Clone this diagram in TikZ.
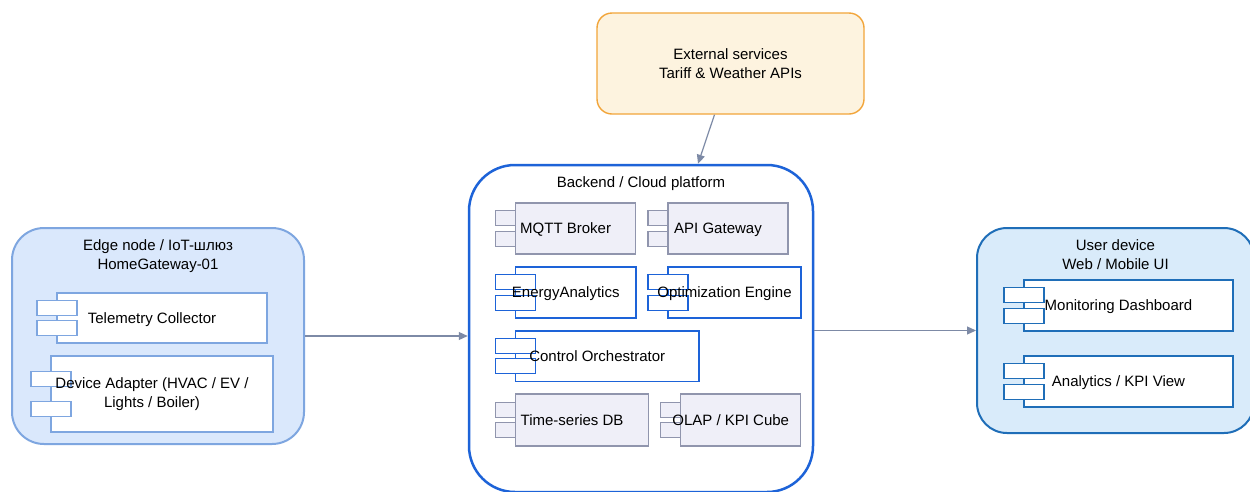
\documentclass[tikz,border=0pt]{standalone}
\usepackage{fontspec}
\setmainfont{Liberation Sans}
\usetikzlibrary{arrows.meta}

\definecolor{edgefill}{HTML}{DAE8FC}
\definecolor{edgeline}{HTML}{7EA6E0}
\definecolor{cloudline}{HTML}{1D63D8}
\definecolor{lavfill}{HTML}{EFEFF8}
\definecolor{lavline}{HTML}{9095AD}
\definecolor{userfill}{HTML}{D9EBFA}
\definecolor{userline}{HTML}{1F6EB8}
\definecolor{extfill}{HTML}{FDF3DF}
\definecolor{extline}{HTML}{F2A53A}
\definecolor{flowline}{HTML}{7D8AA6}

\pgfdeclarelayer{back}
\pgfdeclarelayer{mid}
\pgfsetlayers{back,mid,main}

% UML component: body rectangle plus two jetties on its left edge.
% #1 extra node options, #2 name, #3 body style, #4..#7 x1 y1 x2 y2, #8 text
\newcommand\jetties[5]{%
  \path[#1] (#2,{#3+0.3*(#5-#3)-7.5}) rectangle ++(40,15);
  \path[#1] (#2,{#3+0.7*(#5-#3)-7.5}) rectangle ++(40,15);}
\newcommand\partover[8][]{%
  \node[parttext,#1,minimum width={(#6-#4)*1pt},minimum height={(#7-#5)*1pt}]
    (#2) at ({(#4+#6)/2},{(#5+#7)/2}) {#8};
  \begin{pgfonlayer}{mid}
    \path[#3] ({#4+20},#5) rectangle (#6,#7);
    \jetties{#3}{#4}{#5}{#6}{#7}
  \end{pgfonlayer}}
\newcommand\partunder[8][]{%
  \node[parttext,#1,minimum width={(#6-#4)*1pt},minimum height={(#7-#5)*1pt}]
    (#2) at ({(#4+#6)/2},{(#5+#7)/2}) {#8};
  \begin{pgfonlayer}{mid}
    \jetties{#3}{#4}{#5}{#6}{#7}
    \path[#3] ({#4+20},#5) rectangle (#6,#7);
  \end{pgfonlayer}}

\tikzset{
  parttext/.style={inner sep=0pt, text height=11pt, text depth=0.2pt},
  edgepart/.style={draw=edgeline, fill=white, line width=1.1pt},
  cloudpart/.style={draw=cloudline, fill=white, line width=1.1pt},
  lavpart/.style={draw=lavline, fill=lavfill, line width=1.1pt},
  userpart/.style={draw=userline, fill=white, line width=1.1pt},
  container/.style={rectangle, inner sep=0pt},
  title/.style={anchor=north, align=center, inner sep=0pt, yshift=-12.4pt},
  flow/.style={draw=flowline, line width=1.2pt, -{Triangle[length=9pt,width=8pt]}},
}

\begin{document}
\begin{tikzpicture}[x=1pt, y=-1pt, font=\fontsize{15}{19}\selectfont]
\useasboundingbox (0,0) rectangle (1250,491);

% containers
\begin{pgfonlayer}{back}
\fill[white] (0,0) rectangle (1250,491);
\node[container, draw=extline, fill=extfill, line width=1.4pt, rounded corners=15pt,
      minimum width=267pt, minimum height=101pt]
  (ext) at (730.5,63.5) {};
\node[container, draw=edgeline, fill=edgefill, line width=2pt, rounded corners=32pt,
      minimum width=292pt, minimum height=216pt]
  (edge) at (158,336) {};
\node[container, draw=cloudline, fill=white, line width=2.5pt, rounded corners=46pt,
      minimum width=344pt, minimum height=327pt]
  (cloud) at (641,328.5) {};
\node[container, draw=userline, fill=userfill, line width=2pt, rounded corners=30pt,
      minimum width=277pt, minimum height=205pt]
  (user) at (1115.5,330.5) {};
\end{pgfonlayer}

% container captions
\node[align=center, inner sep=0pt] (exttext) at (ext.center)
  {External services\\Tariff \& Weather APIs};
\node[title] (edgetitle) at (edge.north) {Edge node / IoT-шлюз\\HomeGateway-01};
\node[title] (cloudtitle) at (cloud.north) {Backend / Cloud platform};
\node[title] (usertitle) at (user.north) {User device\\Web / Mobile UI};

% edge node parts
\partover{telemetry}{edgepart}{37}{293}{267}{343}{Telemetry Collector}
\partover[align=center, text height=, text depth=]{adapter}{edgepart}{31}{356}{273}{432}%
  {Device Adapter (HVAC / EV /\\Lights / Boiler)}

% backend parts
\partunder{mqtt}{lavpart}{495.5}{203}{635.7}{254}{MQTT Broker}
\partunder{apigw}{lavpart}{648}{203}{788}{254}{API Gateway}
\partover{analytics}{cloudpart}{495.5}{267}{636}{318}{EnergyAnalytics}
\partover{optim}{cloudpart}{648}{267}{801}{318}{Optimization Engine}
\partover{orch}{cloudpart}{495.5}{331}{699}{381.5}{Control Orchestrator}
\partunder{tsdb}{lavpart}{495.5}{394}{648.7}{446}{Time-series DB}
\partunder{olap}{lavpart}{660.7}{394}{800.7}{446}{OLAP / KPI Cube}

% user device parts
\partover{dash}{userpart}{1004}{280}{1233}{331}{Monitoring Dashboard}
\partover{kpi}{userpart}{1004}{356}{1233}{407}{Analytics / KPI View}

% data flows
\draw[flow] (edge.east) -- (edge.east -| cloud.west);
\draw[flow] (cloud.east |- user.west) -- (user.west);
\draw[flow] ([xshift=-16pt]ext.south) -- ([xshift=57pt]cloud.north);
\end{tikzpicture}
\end{document}
